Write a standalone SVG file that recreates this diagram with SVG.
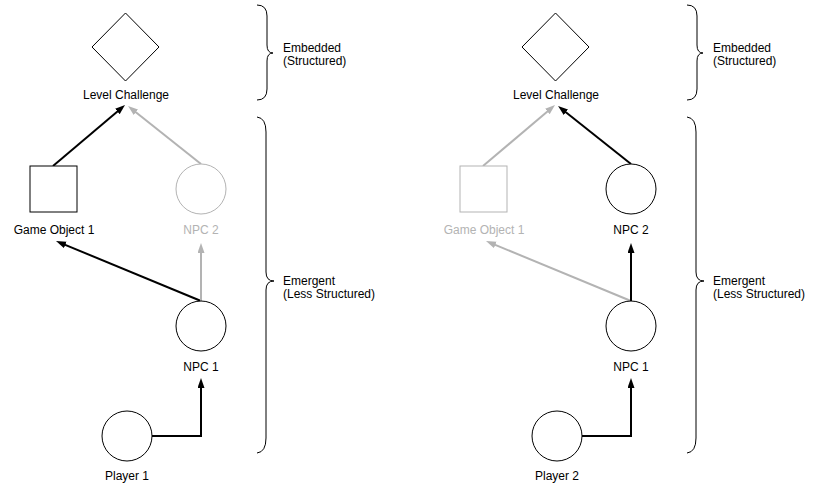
<svg xmlns="http://www.w3.org/2000/svg" width="817" height="486" viewBox="0 0 817 486">
<style>
.shape{fill:#fff;stroke:#000;stroke-width:1}
.shape.dim{stroke:#b3b3b3}
.lbl{font-family:"Liberation Sans",Arial,sans-serif;font-size:12px;fill:#000;text-anchor:middle}
.lbl.dim{fill:#b3b3b3}
.note{font-family:"Liberation Sans",Arial,sans-serif;font-size:12px;fill:#000}
.brace{fill:none;stroke:#000;stroke-width:1}
.arr{fill:none;stroke:#000;stroke-width:2;marker-end:url(#ah)}
.arr.dim{stroke:#b3b3b3;marker-end:url(#ahg)}
</style>
<defs>
<marker id="ah" markerUnits="userSpaceOnUse" markerWidth="11" markerHeight="8" refX="2" refY="3.5" orient="auto"><path d="M0,0 L10,3.5 L0,7 z" fill="#000"/></marker>
<marker id="ahg" markerUnits="userSpaceOnUse" markerWidth="11" markerHeight="8" refX="2" refY="3.5" orient="auto"><path d="M0,0 L10,3.5 L0,7 z" fill="#b3b3b3"/></marker>
</defs>
<rect width="817" height="486" fill="#fff"/>

<g id="connectors">
<path class="arr" d="M53,166 L118.9,110.2"/>
<path class="arr dim" d="M201,164 L134.3,111"/>
<path class="arr" d="M201,301 L63.4,244.1"/>
<path class="arr dim" d="M201,301 L201,251"/>
<path class="arr" d="M152,436 L201,436 L201,386"/>

<path class="arr dim" d="M483,166 L548.9,110.2"/>
<path class="arr" d="M631,164 L564.3,111"/>
<path class="arr dim" d="M631,301 L493.4,244.1"/>
<path class="arr" d="M631,301 L631,251"/>
<path class="arr" d="M582,436 L631,436 L631,386"/>
</g>

<g id="level-challenge-1">
<polygon class="shape" points="125.5,13 159,47 125.5,81 92,47"/>
<text class="lbl" x="126" y="99">Level Challenge</text>
</g>
<g id="game-object-1-1">
<rect class="shape" x="30" y="166" width="47" height="46"/>
<text class="lbl" x="54" y="234">Game Object 1</text>
</g>
<g id="npc2-1">
<circle class="shape dim" cx="201" cy="189" r="25"/>
<text class="lbl dim" x="201" y="234">NPC 2</text>
</g>
<g id="npc1-1">
<circle class="shape" cx="201" cy="326" r="25"/>
<text class="lbl" x="201" y="371">NPC 1</text>
</g>
<g id="player1">
<circle class="shape" cx="127" cy="436" r="25"/>
<text class="lbl" x="127" y="480">Player 1</text>
</g>
<g id="brace-embedded-1">
<path class="brace" d="M257,5 Q267,5 267,16 L267,45 Q267,53 273,53 Q267,53 267,61 L267,89 Q267,100 257,100"/>
<text class="note" x="283" y="52">Embedded</text>
<text class="note" x="283" y="64.5">(Structured)</text>
</g>
<g id="brace-emergent-1">
<path class="brace" d="M257,117 Q266,118 266,132 L266,272 Q266,281 274,281 Q266,281 266,290 L266,438 Q266,452 257,453"/>
<text class="note" x="283" y="285">Emergent</text>
<text class="note" x="283" y="297.5">(Less Structured)</text>
</g>

<g id="level-challenge-2">
<polygon class="shape" points="555.5,13 589,47 555.5,81 522,47"/>
<text class="lbl" x="556" y="99">Level Challenge</text>
</g>
<g id="game-object-1-2">
<rect class="shape dim" x="460" y="166" width="47" height="46"/>
<text class="lbl dim" x="484" y="234">Game Object 1</text>
</g>
<g id="npc2-2">
<circle class="shape" cx="631" cy="189" r="25"/>
<text class="lbl" x="631" y="234">NPC 2</text>
</g>
<g id="npc1-2">
<circle class="shape" cx="631" cy="326" r="25"/>
<text class="lbl" x="631" y="371">NPC 1</text>
</g>
<g id="player2">
<circle class="shape" cx="557" cy="436" r="25"/>
<text class="lbl" x="557" y="480">Player 2</text>
</g>
<g id="brace-embedded-2">
<path class="brace" d="M687,5 Q697,5 697,16 L697,45 Q697,53 703,53 Q697,53 697,61 L697,89 Q697,100 687,100"/>
<text class="note" x="713" y="52">Embedded</text>
<text class="note" x="713" y="64.5">(Structured)</text>
</g>
<g id="brace-emergent-2">
<path class="brace" d="M687,117 Q696,118 696,132 L696,272 Q696,281 704,281 Q696,281 696,290 L696,438 Q696,452 687,453"/>
<text class="note" x="713" y="285">Emergent</text>
<text class="note" x="713" y="297.5">(Less Structured)</text>
</g>
</svg>
